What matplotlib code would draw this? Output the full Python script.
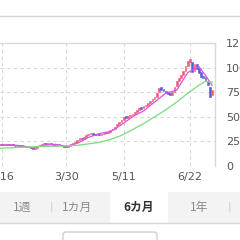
import matplotlib
matplotlib.use("Agg")
import matplotlib.pyplot as plt
from matplotlib.patches import Rectangle, FancyBboxPatch
from matplotlib.lines import Line2D

# trading-day index 0 = 2/15 ; labelled days
tick_idx = [1, 30, 56, 86]
tick_labels = ["2/16", "3/30", "5/11", "6/22"]

# daily open / close
opens = [21, 22, 21, 22, 22,
         21, 22, 20, 21,
         21, 20, 20, 19, 20,
         19, 18, 17, 18, 20,
         21, 22, 23, 22, 23,
         21, 22, 21, 22, 21,
         20, 20, 19, 20, 22,
         23, 24, 26, 28, 27,
         29, 31, 33, 34, 33,
         32, 33, 32, 33, 35,
         34, 35, 37, 38,
         41, 43,
         45, 47, 51, 49, 51,
         52, 53, 55, 57, 60,
         59, 61, 62, 64, 66,
         68, 70, 75, 80, 78,
         76, 75, 74, 72, 75,
         81, 86, 89, 92, 97,
         102, 106, 106, 97, 104,
         100, 96, 91, 90, 86,
         80, 72]
closes = [22, 21, 22, 21, 21,
          22, 21, 21, 20,
          20, 21, 19, 20, 19,
          18, 17, 18, 20, 21,
          22, 23, 22, 23, 22,
          22, 21, 22, 21, 20,
          19, 19, 20, 22, 23,
          24, 26, 28, 27, 29,
          31, 33, 34, 32, 32,
          33, 32, 33, 34, 34,
          35, 37, 38, 40,
          43, 45,
          47, 50, 49, 51, 52,
          53, 55, 57, 59, 58,
          61, 62, 64, 66, 68,
          70, 74, 79, 77, 76,
          74, 73, 72, 75, 80,
          86, 89, 92, 97, 102,
          107, 109, 96, 104, 99,
          95, 90, 89, 86, 82,
          70, 77]

# moving averages (vertices)
ma_short_x = [0, 5, 10, 15, 20, 25, 30, 35, 40, 45, 50, 55, 60, 65, 70, 75, 80, 85, 90, 93, 96]
ma_short = [21, 21.5, 20.5, 18.5, 21, 22, 20, 23, 29, 33, 35, 42, 50, 56, 65, 74, 77, 95, 101, 92, 82]
ma_long_x = [0, 5, 10, 15, 20, 25, 30, 35, 40, 45, 50, 55, 60, 65, 70, 75, 80, 85, 90, 93, 96]
ma_long = [18, 18.5, 19, 19.5, 20, 20, 20.5, 21, 22.5, 24, 27, 31, 37, 43, 50, 57, 65, 74, 82, 86, 85]

buttons = ["1週", "1カ月", "6カ月", "1年"]
button_x = [22, 77, 139, 199]

W = 240.0
fig = plt.figure(figsize=(2.4, 2.4), dpi=100)
fig.patch.set_facecolor("white")

def fx(px):
    return px / W

def fy(py):
    return 1 - py / W

# top separator line
fig.add_artist(Line2D([0, 1], [fy(16), fy(16)], color="#d6d6d6", lw=1))

ax = fig.add_axes([0, fy(166), fx(215), (166 - 43) / W])
up_c = "#f0587a"
dn_c = "#5a5ad6"
for i in range(len(closes)):
    o, c = opens[i], closes[i]
    col = up_c if c >= o else dn_c
    ax.bar(i, max(abs(c - o), 0.8), bottom=min(o, c), width=0.8, color=col,
           edgecolor=col, linewidth=0.4, zorder=3)
ax.plot(ma_short_x, ma_short, color="#e050e8", lw=0.9, zorder=4)
ax.plot(ma_long_x, ma_long, color="#86dc8a", lw=1.0, zorder=4)

ax.set_xlim(0.1, 97.3)
ax.set_ylim(0, 125)
ax.set_yticks([0, 25, 50, 75, 100, 125])
ax.set_xticks(tick_idx)
ax.set_xticklabels(tick_labels)
ax.yaxis.tick_right()
ax.tick_params(axis="y", length=0, pad=8, labelsize=8, labelcolor="#555555")
ax.tick_params(axis="x", length=0, pad=4, labelsize=8, labelcolor="#555555")
ax.grid(True, color="#d8d8d8", linestyle=(0, (3, 3)), lw=0.8)
for s in ["left", "bottom"]:
    ax.spines[s].set_visible(False)
for s in ["top", "right"]:
    ax.spines[s].set_color("#d9d9d9")
    ax.spines[s].set_linewidth(1)
ax.set_facecolor("white")

# period buttons
fig.add_artist(Rectangle((0, fy(223)), 1, (223 - 192) / W, transform=fig.transFigure,
                         facecolor="#f3f3f3", edgecolor="none"))
fig.add_artist(Rectangle((fx(110), fy(223)), fx(58), (223 - 192) / W, transform=fig.transFigure,
                         facecolor="white", edgecolor="none"))
fig.add_artist(Line2D([0, 1], [fy(223), fy(223)], color="#d8d8d8", lw=1))
for lab, bx in zip(buttons, button_x):
    sel = lab == "6カ月"
    fig.text(fx(bx), fy(207), lab, ha="center", va="center", fontsize=8.5,
             family=["Noto Sans CJK JP", "DejaVu Sans"],
             color="#333333" if sel else "#8a8a8a",
             fontweight="bold" if sel else "normal")
for sx in [51, 229]:
    fig.text(fx(sx), fy(207), "|", ha="center", va="center", fontsize=8, color="#cccccc")

fig.add_artist(FancyBboxPatch((fx(63), fy(250)), fx(94), 18 / W, transform=fig.transFigure,
                              boxstyle="round,pad=0,rounding_size=0.012",
                              facecolor="white", edgecolor="#cfcfcf", lw=1))

fig.savefig("out.png", dpi=100)
